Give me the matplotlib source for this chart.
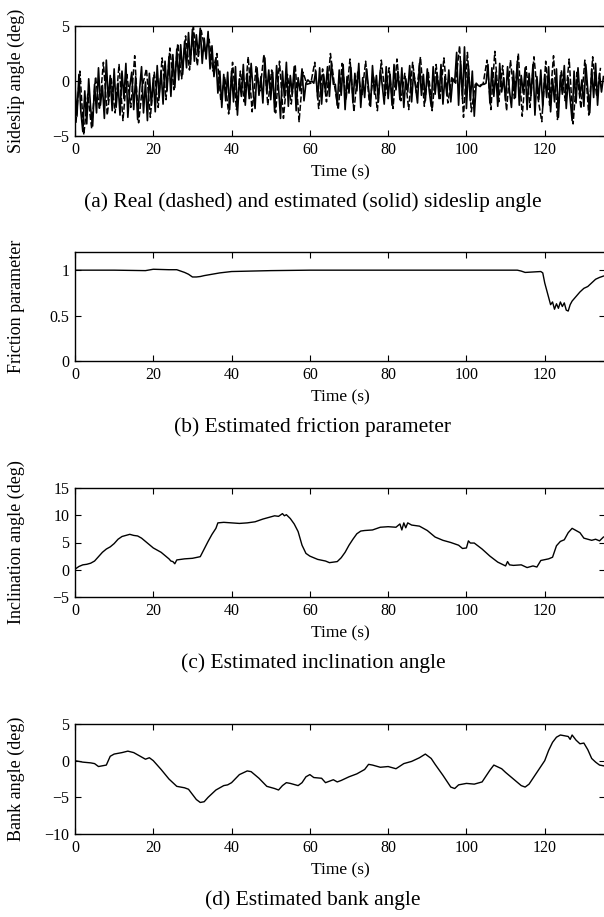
import numpy as np
import matplotlib
matplotlib.use("Agg")
import matplotlib.pyplot as plt

plt.rcParams['font.family'] = ['Liberation Serif', 'DejaVu Serif']

# (a) sideslip angle, estimated (solid) sampled every 0.5 s
beta_est = [
    -0.5, -3.2, 0.6, -2.8, -4.6, -0.9, -3.9, 0.2, -2.5, -4.1,
    -0.3, -2.9, 1.2, -2.2, -0.4, -3.4, 1.9, -1.8, 0.5, -2.7,
    1.1, -2.4, -0.2, -3.1, 0.9, -1.6, 1.6, -3.3, -0.5, 0.8,
    -2.6, 0.4, -3.5, -0.8, 1.3, -2.9, -0.1, -3.6, 0.7, -2.2,
    0.3, -2.8, 1.4, -1.5, 0.9, -2.1, 1.8, -0.9, 2.2, -1.4,
    2.4, -0.6, 2.9, 0.1, 3.3, 0.6, 3.6, 1.2, 4.4, 1.5,
    4.7, 1.8, 4.2, 2.3, 4.8, 1.6, 3.9, 2.0, 4.5, 1.1,
    3.2, 0.4, 2.1, -1.1, 0.9, -2.4, 0.6, -1.8, 0.8, -2.6,
    0.9, -1.9, 1.3, -3.1, 0.2, -1.4, 1.5, -2.2, 0.7, -1.6,
    1.6, -0.9, -2.5, 1.2, -1.3, 0.4, -2.0, 2.1, -1.1, 1.0,
    -1.7, 0.8, -2.8, 1.4, -0.6, -3.4, 0.9, -1.5, 1.7, -2.3,
    0.5, -1.2, 1.3, -2.7, 0.3, -0.9, 1.1, -1.8, -0.2, 0.1,
    -0.1, 0.0, -0.2, 0.9, -1.6, 1.2, -2.1, 0.6, -1.0, 1.3,
    -1.4, 1.6, -0.3, -0.3, -2.2, 1.0, -1.3, 1.5, -2.6, 0.4,
    -1.1, 1.2, -2.0, 0.7, -0.9, 1.6, -2.4, 0.3, -1.5, 1.1,
    -0.7, -2.3, 1.4, -1.2, 0.5, -1.9, 1.0, -0.4, -2.1, 1.3,
    -1.6, 0.6, -2.2, 1.5, -0.8, 0.9, -1.7, 1.2, -2.4, 0.2,
    -1.0, 1.4, -1.9, 0.8, -0.5, -2.0, 1.6, -1.3, 0.6, -1.8,
    1.1, -0.9, -2.3, 1.3, -1.2, 0.7, -1.6, 1.5, -2.1, 0.4,
    -1.3, 1.0, -1.9, 0.2, -0.1, 2.6, -2.2, 1.8, -1.6, 3.1,
    -2.5, 1.4, -1.8, 0.9, -3.2, -0.2, -0.4, -0.5, -0.3, -0.3,
    -0.2, 1.5, -2.0, 1.2, -1.4, 0.8, -2.3, 1.6, -1.0, 0.3,
    -1.8, 1.3, -0.9, -2.4, 0.9, -1.5, 1.8, -2.2, 0.5, -1.1,
    1.2, -2.6, 0.7, -1.3, 1.5, -3.1, 0.4, -1.7, 1.0, -2.4,
    0.6, -1.5, 1.3, -2.8, 0.2, -1.9, 1.1, -3.3, 0.5, -1.2,
    1.4, -2.5, 0.3, -1.6, -3.6, 0.9, -2.0, 1.2, -1.4, 0.1,
    -2.3, 1.5, -0.8, -2.9, 1.1, -1.5, 1.6, -2.2, 0.7, -1.0,
    0.4,
]
t_est = np.arange(len(beta_est)) * 0.5

# (a) sideslip angle, real (dashed) sampled every 1 s from 0.25 s
beta_real = [
    -3.8, 0.9, -4.9, -1.2, -4.3, 0.4, -2.6, 1.7, -3.1, 0.2,
    -2.9, 1.5, -3.6, 0.6, -2.4, 2.3, -3.8, -0.4, 1.1, -3.3,
    0.8, -2.4, 2.1, -1.7, 3.0, -0.8, 3.4, 0.2, 4.1, 1.0,
    4.9, 1.4, 4.6, 2.7, 3.8, 0.9, 2.5, -1.8, 0.4, -3.0,
    1.7, -2.6, 0.9, -1.9, 2.2, -2.8, 1.3, -0.9, 2.4, -2.2,
    1.0, -2.9, 1.8, -3.4, 0.6, -2.1, 1.5, -3.7, 0.8, -0.3,
    -0.2, 1.7, -2.5, 1.1, -1.9, 2.5, -0.3, -2.6, 1.6, -1.7,
    2.0, -2.8, 0.9, -1.4, 1.8, -2.2, 0.5, -2.7, 1.9, -1.3,
    1.2, -2.5, 2.0, -1.8, 0.7, -2.6, 1.7, -1.1, 2.2, -2.3,
    0.9, -2.7, 1.5, -1.6, 2.1, -2.0, 0.3, -0.2, 3.2, -3.3,
    2.6, -2.8, -0.3, -0.4, -0.3, 1.9, -2.6, 2.7, -1.9, 1.4,
    -2.7, 1.9, -1.6, 2.5, -3.2, 1.3, -2.4, 2.2, -1.5, -3.7,
    1.8, -2.2, 2.3, -3.5, 1.0, -1.8, 2.0, -3.9, 0.8, -2.5,
    1.9, -3.1, 2.2, -1.4, 1.2,
]
t_real = 0.25 + np.arange(len(beta_real)) * 1.0

# (b) friction parameter
t_mu = [0, 10, 18, 20, 24, 26, 27, 28, 29, 30, 31, 32, 33, 35, 37, 40, 45, 50,
        60, 80, 100, 113, 114, 115, 117, 119, 119.5, 120, 120.5, 121, 121.5,
        122, 122.5, 123, 123.5, 124, 124.5, 125, 125.5, 126, 126.5, 127, 128,
        129, 130, 131, 132, 133, 134, 135]
mu = [1.0, 1.0, 0.995, 1.01, 1.005, 1.005, 0.99, 0.975, 0.955, 0.925, 0.925,
      0.93, 0.94, 0.955, 0.97, 0.985, 0.99, 0.995,
      1.0, 1.0, 1.0, 1.0, 0.99, 0.975, 0.98, 0.985, 0.97, 0.86, 0.78, 0.70,
      0.62, 0.65, 0.57, 0.63, 0.58, 0.65, 0.60, 0.64, 0.56, 0.55, 0.62, 0.66,
      0.71, 0.76, 0.80, 0.82, 0.86, 0.90, 0.92, 0.935]

# (c) inclination angle
t_inc = [0, 1, 2, 3, 4, 5, 6, 7, 8, 9, 10, 11, 12, 13, 14, 15, 16, 17, 18, 19,
         20, 21, 22, 23, 24, 24.5, 25, 25.5, 26, 27, 28, 30, 32, 33, 34, 35, 36,
         36.5, 38, 40, 42, 44, 45, 46, 48, 50, 51, 52, 53, 53.5, 54, 55, 56, 57,
         58, 59, 60, 62, 64, 65, 66, 67, 68, 69, 70, 71, 72, 73, 74, 76, 78,
         80, 82, 83, 83.5, 84, 84.5, 85, 86, 88, 90, 92, 94, 96, 98, 99, 100,
         100.5, 101, 102, 104, 106, 108, 110, 110.5, 111, 112, 114, 115.5, 117,
         118, 119, 121, 122, 123, 124, 125, 126, 127, 128, 129, 130, 131, 132,
         133, 134, 135]
inc = [0.1, 0.6, 0.9, 1.0, 1.2, 1.6, 2.4, 3.2, 3.8, 4.2, 4.8, 5.6, 6.1, 6.3,
       6.5, 6.3, 6.2, 5.8, 5.2, 4.6, 4.0, 3.6, 3.2, 2.6, 2.0, 1.6, 1.5, 1.1,
       1.8, 1.9, 2.0, 2.1, 2.4, 3.8, 5.2, 6.5, 7.6, 8.6, 8.7, 8.6, 8.5, 8.6,
       8.7, 8.8, 9.3, 9.7, 9.9, 9.8, 10.3, 9.9, 10.1, 9.4, 8.4, 7.0, 4.5, 3.0,
       2.5, 1.9, 1.6, 1.3, 1.4, 1.5, 2.2, 3.2, 4.5, 5.6, 6.6, 7.1, 7.2, 7.3,
       7.8, 7.9, 7.8, 8.4, 7.3, 8.6, 7.7, 8.6, 8.2, 8.0, 7.2, 6.0, 5.4, 5.0,
       4.5, 3.9, 4.0, 5.3, 4.9, 4.9, 3.8, 2.5, 1.4, 0.7, 1.5, 0.9, 0.8, 0.9,
       0.4, 0.7, 0.5, 1.7, 2.0, 2.3, 4.4, 5.2, 5.5, 6.8, 7.6, 7.2, 6.8, 5.8,
       5.6, 5.4, 5.6, 5.3, 6.0]

# (d) bank angle
t_bank = [0, 2, 4, 5, 6, 7, 8, 9, 10, 12, 13.5, 15, 17, 18, 19, 20, 22, 24, 26,
          28, 29, 30, 31, 32, 33, 34, 36, 38, 39, 40, 42, 44, 45, 47, 49, 51,
          52, 53, 54, 55, 57, 58, 59, 60, 61, 63, 64, 66, 67, 68, 70, 72, 74,
          75, 76, 78, 80, 82, 84, 86, 88, 89.5, 91, 92, 94, 96, 97, 98, 100,
          102, 104, 106, 107, 109, 110, 112, 114, 115, 116, 118, 120, 121, 122,
          123, 124, 126, 126.5, 127, 128, 129, 130, 131, 132, 133, 134, 135]
bank = [0.0, -0.2, -0.3, -0.4, -0.8, -0.7, -0.6, 0.6, 0.9, 1.1, 1.3, 1.1, 0.5,
        0.2, 0.4, 0.0, -1.2, -2.5, -3.5, -3.7, -3.9, -4.6, -5.3, -5.7, -5.6,
        -5.0, -4.0, -3.4, -3.3, -3.0, -1.9, -1.4, -1.5, -2.4, -3.5, -3.8, -4.0,
        -3.4, -3.0, -3.1, -3.4, -3.0, -2.2, -1.9, -2.3, -2.4, -3.0, -2.6, -2.9,
        -2.7, -2.2, -1.8, -1.2, -0.5, -0.6, -0.9, -0.8, -1.1, -0.4, -0.1, 0.4,
        0.9, 0.3, -0.5, -2.0, -3.6, -3.8, -3.3, -3.1, -3.2, -2.9, -1.3, -0.6,
        -1.1, -1.6, -2.5, -3.4, -3.6, -3.2, -1.6, 0.0, 1.4, 2.5, 3.2, 3.5, 3.3,
        2.9, 3.5, 2.8, 2.3, 2.4, 1.5, 0.3, -0.2, -0.6, -0.7]

ylabels = ["Sideslip angle (deg)", "Friction parameter",
           "Inclination angle (deg)", "Bank angle (deg)"]
captions = ["(a) Real (dashed) and estimated (solid) sideslip angle",
            "(b) Estimated friction parameter",
            "(c) Estimated inclination angle",
            "(d) Estimated bank angle"]
ylims = [(-5, 5), (0, 1.2), (-5, 15), (-10, 5)]
yticks = [[-5, 0, 5], [0, 0.5, 1], [-5, 0, 5, 10, 15], [-10, -5, 0, 5]]
ytick_labels = [["\u22125", "0", "5"], ["0", "0.5", "1"],
                ["\u22125", "0", "5", "10", "15"],
                ["\u221210", "\u22125", "0", "5"]]
xticks = [0, 20, 40, 60, 80, 100, 120]

W, H = 604, 917
fig = plt.figure(figsize=(W / 100, H / 100), dpi=100)

# axes boxes in pixels (top, bottom)
boxes = [(26, 136), (252, 361), (488, 597), (724, 834)]
left_px, right_px = 75, 605

axes = []
for i, (top, bot) in enumerate(boxes):
    ax = fig.add_axes([left_px / W, 1 - bot / H, (right_px - left_px) / W, (bot - top) / H])
    axes.append(ax)
    ax.set_xlim(0, 135.4)
    ax.set_ylim(*ylims[i])
    ax.set_xticks(xticks)
    ax.set_yticks(yticks[i])
    ax.set_yticklabels(ytick_labels[i])
    ax.tick_params(direction='in', top=True, right=True, length=4.5, width=0.8,
                   labelsize=11.5, pad=4)
    for s in ax.spines.values():
        s.set_linewidth(1.0)
    ax.set_xlabel("Time (s)", fontsize=12.5, labelpad=5)
    ax.set_ylabel(ylabels[i], fontsize=13)
    ax.yaxis.set_label_coords(-0.094, 0.5)
    fig.text(313 / W, 1 - (bot + 66) / H, captions[i], fontsize=15.5,
             ha='center', va='center')

axes[0].plot(t_real, beta_real, color='black', lw=1.1, ls='--', dashes=(4, 1.5))
axes[0].plot(t_est, beta_est, color='black', lw=1.2)
axes[1].plot(t_mu, mu, color='black', lw=1.0)
axes[2].plot(t_inc, inc, color='black', lw=1.0)
axes[3].plot(t_bank, bank, color='black', lw=1.0)

fig.savefig("out.png", dpi=100)
